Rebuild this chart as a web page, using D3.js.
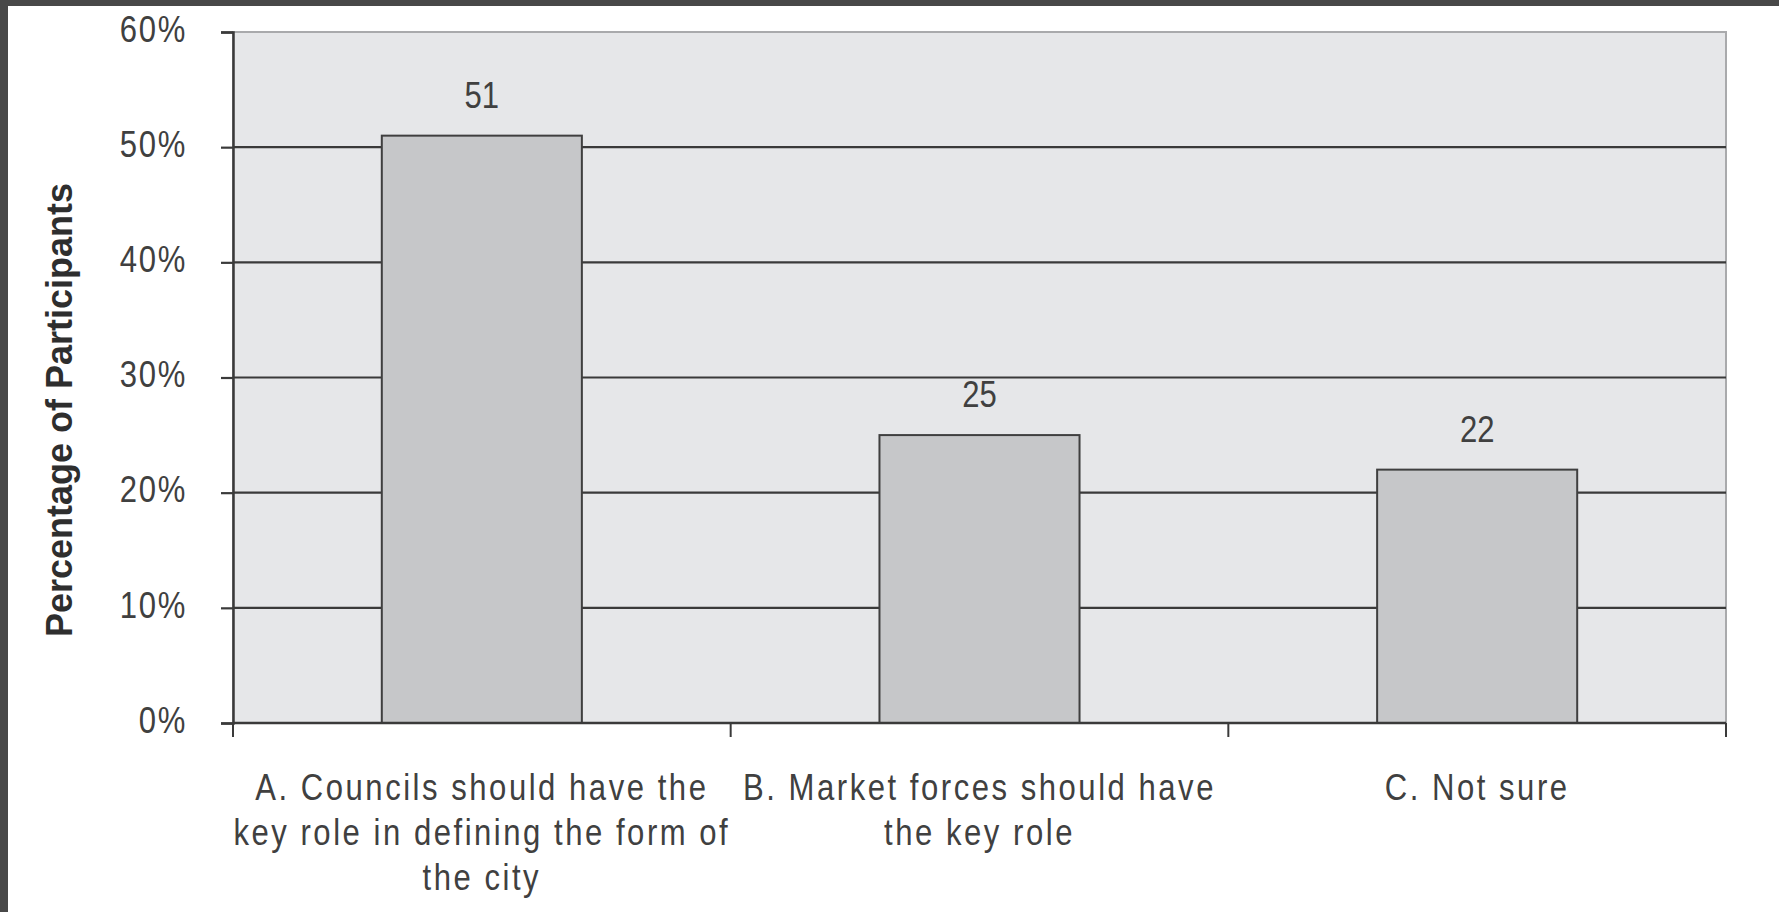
<!DOCTYPE html>
<html>
<head>
<meta charset="utf-8">
<script src="https://cdn.jsdelivr.net/npm/d3@7"></script>
<style>
  html, body { margin: 0; padding: 0; background: #ffffff; }
  svg { display: block; }
</style>
</head>
<body>
<script>
// ---- data ----
const categories = ["A", "B", "C"];
const categoryLabels = [
  ["A. Councils should have the", "key role in defining the form of", "the city"],
  ["B. Market forces should have", "the key role"],
  ["C. Not sure"]
];
const values = [51, 25, 22];
const yTicks = [0, 10, 20, 30, 40, 50, 60];
const yTitle = "Percentage of Participants";

// ---- layout ----
const W = 1779, H = 912;
const plot = { left: 233, right: 1726, top: 32, bottom: 723 };
const font = "'Liberation Sans', Arial, Helvetica, sans-serif";
const textColor = "#404040";
const SX = 0.84; // narrow look of the original lettering

const svg = d3.select("body").append("svg").attr("width", W).attr("height", H);

// dark frame at top and left
svg.append("rect").attr("x", 0).attr("y", 0).attr("width", W).attr("height", 6).attr("fill", "#484848");
svg.append("rect").attr("x", 0).attr("y", 0).attr("width", 8).attr("height", H).attr("fill", "#484848");

const x = d3.scaleBand().domain(categories).range([plot.left, plot.right])
  .paddingInner(0.598).paddingOuter(0.299);
const y = d3.scaleLinear().domain([0, 60]).range([plot.bottom, plot.top]);

// plot background
svg.append("rect")
  .attr("x", plot.left).attr("y", plot.top)
  .attr("width", plot.right - plot.left).attr("height", plot.bottom - plot.top)
  .attr("fill", "#e6e7e9")
  .attr("stroke", "#a9aaac").attr("stroke-width", 2);

// gridlines
svg.append("g").selectAll("line")
  .data(yTicks.filter(d => d > 0 && d < 60))
  .join("line")
  .attr("x1", plot.left).attr("x2", plot.right)
  .attr("y1", d => y(d)).attr("y2", d => y(d))
  .attr("stroke", "#3a3a3a").attr("stroke-width", 2.2);

// bars
svg.append("g").selectAll("rect")
  .data(values)
  .join("rect")
  .attr("x", (d, i) => x(categories[i]))
  .attr("y", d => y(d))
  .attr("width", x.bandwidth())
  .attr("height", d => y(0) - y(d))
  .attr("fill", "#c6c7c9")
  .attr("stroke", "#3f3f3f").attr("stroke-width", 2);

// value labels
svg.append("g").selectAll("text")
  .data(values)
  .join("text")
  .attr("transform", (d, i) => `translate(${x(categories[i]) + x.bandwidth() / 2},${y(d) - 28}) scale(${SX},1)`)
  .attr("text-anchor", "middle")
  .attr("font-family", font)
  .attr("font-size", 37)
  .attr("fill", textColor)
  .text(d => d);

// y axis
const yAxis = svg.append("g")
  .attr("transform", `translate(${plot.left},0)`)
  .call(d3.axisLeft(y).tickValues(yTicks).tickFormat(d => d + "%").tickSize(12).tickPadding(10));
yAxis.select(".domain").attr("stroke", "#3a3a3a").attr("stroke-width", 2.5);
yAxis.selectAll(".tick line").attr("stroke", "#3a3a3a").attr("stroke-width", 2.2);
yAxis.selectAll(".tick text")
  .attr("x", 0)
  .attr("transform", `translate(-46,0) scale(${SX},1)`)
  .attr("font-family", font).attr("font-size", 37).attr("letter-spacing", 2)
  .attr("fill", textColor).attr("dy", "0.25em");

// x axis with category-boundary ticks
const boundaries = [plot.left].concat(categories.map(c => x(c) + x.bandwidth() / 2 + x.step() / 2));
const xb = svg.append("g");
xb.append("line")
  .attr("x1", plot.left).attr("x2", plot.right)
  .attr("y1", plot.bottom).attr("y2", plot.bottom)
  .attr("stroke", "#3a3a3a").attr("stroke-width", 2.5);
xb.selectAll("line.tk")
  .data(boundaries)
  .join("line").attr("class", "tk")
  .attr("x1", d => d).attr("x2", d => d)
  .attr("y1", plot.bottom).attr("y2", plot.bottom + 14)
  .attr("stroke", "#3a3a3a").attr("stroke-width", 2);

// category labels
const catG = svg.append("g");
categoryLabels.forEach((lines, i) => {
  const cx = x(categories[i]) + x.bandwidth() / 2;
  const t = catG.append("text")
    .attr("transform", `translate(${cx},800) scale(${SX},1)`)
    .attr("text-anchor", "middle")
    .attr("font-family", font)
    .attr("font-size", 37)
    .attr("letter-spacing", 3)
    .attr("fill", textColor);
  lines.forEach((ln, j) => {
    t.append("tspan").attr("x", 0).attr("dy", j === 0 ? 0 : 45).text(ln);
  });
});

// y axis title
svg.append("text")
  .attr("transform", `translate(72,410) rotate(-90)`)
  .attr("text-anchor", "middle")
  .attr("font-family", font)
  .attr("font-weight", "bold")
  .attr("font-size", 36)
  .attr("fill", "#2e2e2e")
  .text(yTitle);
</script>
</body>
</html>
